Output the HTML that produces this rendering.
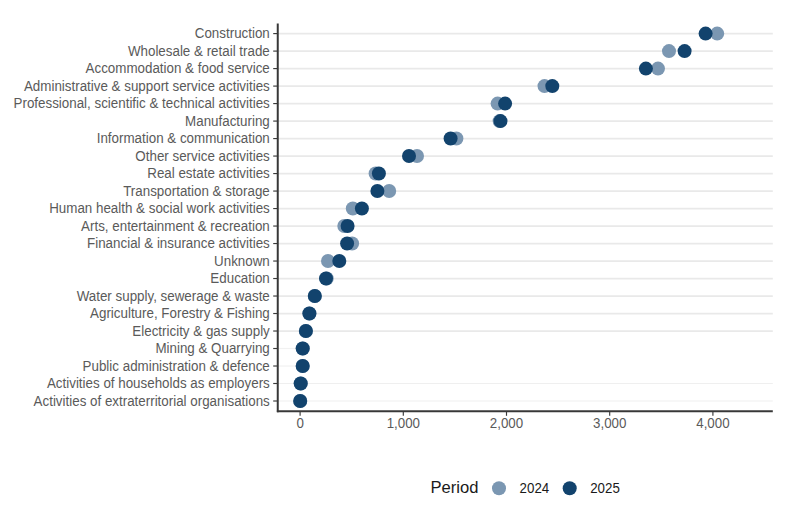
<!DOCTYPE html>
<html><head><meta charset="utf-8"><title>chart</title>
<style>
html,body{margin:0;padding:0;background:#fff;}
body{width:801px;height:507px;overflow:hidden;}
svg{display:block;}
text{font-family:"Liberation Sans",sans-serif;}
.yl{font-size:13.38px;fill:#5a5a5a;text-anchor:end;}
.xl{font-size:13.33px;fill:#5a5a5a;text-anchor:middle;}
.lg{font-size:13.33px;fill:#1a1a1a;}
.lt{font-size:16.6px;fill:#1a1a1a;}
</style></head><body>
<svg width="801" height="507" viewBox="0 0 801 507">
<rect width="801" height="507" fill="#ffffff"/>

<line x1="278" x2="772.8" y1="33.70" y2="33.70" stroke="#e9e9e9" stroke-width="1.8"/>
<line x1="278" x2="772.8" y1="51.20" y2="51.20" stroke="#e9e9e9" stroke-width="1.8"/>
<line x1="278" x2="772.8" y1="68.69" y2="68.69" stroke="#e9e9e9" stroke-width="1.8"/>
<line x1="278" x2="772.8" y1="86.19" y2="86.19" stroke="#e9e9e9" stroke-width="1.8"/>
<line x1="278" x2="772.8" y1="103.68" y2="103.68" stroke="#e9e9e9" stroke-width="1.8"/>
<line x1="278" x2="772.8" y1="121.18" y2="121.18" stroke="#e9e9e9" stroke-width="1.8"/>
<line x1="278" x2="772.8" y1="138.67" y2="138.67" stroke="#e9e9e9" stroke-width="1.8"/>
<line x1="278" x2="772.8" y1="156.16" y2="156.16" stroke="#e9e9e9" stroke-width="1.8"/>
<line x1="278" x2="772.8" y1="173.66" y2="173.66" stroke="#e9e9e9" stroke-width="1.8"/>
<line x1="278" x2="772.8" y1="191.16" y2="191.16" stroke="#e9e9e9" stroke-width="1.8"/>
<line x1="278" x2="772.8" y1="208.65" y2="208.65" stroke="#e9e9e9" stroke-width="1.8"/>
<line x1="278" x2="772.8" y1="226.15" y2="226.15" stroke="#e9e9e9" stroke-width="1.8"/>
<line x1="278" x2="772.8" y1="243.64" y2="243.64" stroke="#e9e9e9" stroke-width="1.8"/>
<line x1="278" x2="772.8" y1="261.14" y2="261.14" stroke="#e9e9e9" stroke-width="1.8"/>
<line x1="278" x2="772.8" y1="278.63" y2="278.63" stroke="#e9e9e9" stroke-width="1.8"/>
<line x1="278" x2="772.8" y1="296.13" y2="296.13" stroke="#e9e9e9" stroke-width="1.8"/>
<line x1="278" x2="772.8" y1="313.62" y2="313.62" stroke="#e9e9e9" stroke-width="1.8"/>
<line x1="278" x2="772.8" y1="331.12" y2="331.12" stroke="#e9e9e9" stroke-width="1.8"/>
<line x1="278" x2="296" y1="348.51" y2="348.51" stroke="#f1f1f1" stroke-width="1.2"/>
<line x1="278" x2="296" y1="366.01" y2="366.01" stroke="#f1f1f1" stroke-width="1.2"/>
<line x1="278" x2="772.8" y1="383.50" y2="383.50" stroke="#efefef" stroke-width="1.2"/>
<line x1="278" x2="772.8" y1="401.00" y2="401.00" stroke="#efefef" stroke-width="1.2"/>
<line x1="277.75" x2="277.75" y1="23.5" y2="412.2" stroke="#383838" stroke-width="2"/>
<line x1="276.9" x2="772.8" y1="411.2" y2="411.2" stroke="#383838" stroke-width="2"/>
<line x1="273.2" x2="277" y1="33.60" y2="33.60" stroke="#3a3a3a" stroke-width="1.15"/>
<text class="yl" transform="translate(269.8,38) scale(1,1.05)">Construction</text>
<line x1="273.2" x2="277" y1="51.09" y2="51.09" stroke="#3a3a3a" stroke-width="1.15"/>
<text class="yl" transform="translate(269.8,56) scale(1,1.05)">Wholesale &amp; retail trade</text>
<line x1="273.2" x2="277" y1="68.59" y2="68.59" stroke="#3a3a3a" stroke-width="1.15"/>
<text class="yl" transform="translate(269.8,73) scale(1,1.05)">Accommodation &amp; food service</text>
<line x1="273.2" x2="277" y1="86.09" y2="86.09" stroke="#3a3a3a" stroke-width="1.15"/>
<text class="yl" transform="translate(269.8,91) scale(1,1.05)">Administrative &amp; support service activities</text>
<line x1="273.2" x2="277" y1="103.58" y2="103.58" stroke="#3a3a3a" stroke-width="1.15"/>
<text class="yl" transform="translate(269.8,108) scale(1,1.05)">Professional, scientific &amp; technical activities</text>
<line x1="273.2" x2="277" y1="121.08" y2="121.08" stroke="#3a3a3a" stroke-width="1.15"/>
<text class="yl" transform="translate(269.8,126) scale(1,1.05)">Manufacturing</text>
<line x1="273.2" x2="277" y1="138.57" y2="138.57" stroke="#3a3a3a" stroke-width="1.15"/>
<text class="yl" transform="translate(269.8,143) scale(1,1.05)">Information &amp; communication</text>
<line x1="273.2" x2="277" y1="156.06" y2="156.06" stroke="#3a3a3a" stroke-width="1.15"/>
<text class="yl" transform="translate(269.8,161) scale(1,1.05)">Other service activities</text>
<line x1="273.2" x2="277" y1="173.56" y2="173.56" stroke="#3a3a3a" stroke-width="1.15"/>
<text class="yl" transform="translate(269.8,178) scale(1,1.05)">Real estate activities</text>
<line x1="273.2" x2="277" y1="191.06" y2="191.06" stroke="#3a3a3a" stroke-width="1.15"/>
<text class="yl" transform="translate(269.8,196) scale(1,1.05)">Transportation &amp; storage</text>
<line x1="273.2" x2="277" y1="208.55" y2="208.55" stroke="#3a3a3a" stroke-width="1.15"/>
<text class="yl" transform="translate(269.8,213) scale(1,1.05)">Human health &amp; social work activities</text>
<line x1="273.2" x2="277" y1="226.05" y2="226.05" stroke="#3a3a3a" stroke-width="1.15"/>
<text class="yl" transform="translate(269.8,231) scale(1,1.05)">Arts, entertainment &amp; recreation</text>
<line x1="273.2" x2="277" y1="243.54" y2="243.54" stroke="#3a3a3a" stroke-width="1.15"/>
<text class="yl" transform="translate(269.8,248) scale(1,1.05)">Financial &amp; insurance activities</text>
<line x1="273.2" x2="277" y1="261.04" y2="261.04" stroke="#3a3a3a" stroke-width="1.15"/>
<text class="yl" transform="translate(269.8,266) scale(1,1.05)">Unknown</text>
<line x1="273.2" x2="277" y1="278.53" y2="278.53" stroke="#3a3a3a" stroke-width="1.15"/>
<text class="yl" transform="translate(269.8,283) scale(1,1.05)">Education</text>
<line x1="273.2" x2="277" y1="296.03" y2="296.03" stroke="#3a3a3a" stroke-width="1.15"/>
<text class="yl" transform="translate(269.8,301) scale(1,1.05)">Water supply, sewerage &amp; waste</text>
<line x1="273.2" x2="277" y1="313.52" y2="313.52" stroke="#3a3a3a" stroke-width="1.15"/>
<text class="yl" transform="translate(269.8,318) scale(1,1.05)">Agriculture, Forestry &amp; Fishing</text>
<line x1="273.2" x2="277" y1="331.02" y2="331.02" stroke="#3a3a3a" stroke-width="1.15"/>
<text class="yl" transform="translate(269.8,336) scale(1,1.05)">Electricity &amp; gas supply</text>
<line x1="273.2" x2="277" y1="348.51" y2="348.51" stroke="#3a3a3a" stroke-width="1.15"/>
<text class="yl" transform="translate(269.8,353) scale(1,1.05)">Mining &amp; Quarrying</text>
<line x1="273.2" x2="277" y1="366.01" y2="366.01" stroke="#3a3a3a" stroke-width="1.15"/>
<text class="yl" transform="translate(269.8,371) scale(1,1.05)">Public administration &amp; defence</text>
<line x1="273.2" x2="277" y1="383.50" y2="383.50" stroke="#3a3a3a" stroke-width="1.15"/>
<text class="yl" transform="translate(269.8,388) scale(1,1.05)">Activities of households as employers</text>
<line x1="273.2" x2="277" y1="401.00" y2="401.00" stroke="#3a3a3a" stroke-width="1.15"/>
<text class="yl" transform="translate(269.8,406) scale(1,1.05)">Activities of extraterritorial organisations</text>
<line x1="300.10" x2="300.10" y1="412" y2="415.8" stroke="#3a3a3a" stroke-width="1.15"/>
<text class="xl" transform="translate(300.10,428) scale(1,1.07)">0</text>
<line x1="403.30" x2="403.30" y1="412" y2="415.8" stroke="#3a3a3a" stroke-width="1.15"/>
<text class="xl" transform="translate(403.30,428) scale(1,1.07)">1,000</text>
<line x1="506.50" x2="506.50" y1="412" y2="415.8" stroke="#3a3a3a" stroke-width="1.15"/>
<text class="xl" transform="translate(506.50,428) scale(1,1.07)">2,000</text>
<line x1="609.70" x2="609.70" y1="412" y2="415.8" stroke="#3a3a3a" stroke-width="1.15"/>
<text class="xl" transform="translate(609.70,428) scale(1,1.07)">3,000</text>
<line x1="712.90" x2="712.90" y1="412" y2="415.8" stroke="#3a3a3a" stroke-width="1.15"/>
<text class="xl" transform="translate(712.90,428) scale(1,1.07)">4,000</text>
<circle cx="717.20" cy="33.60" r="7" fill="#7b97b2"/>
<circle cx="669.00" cy="51.09" r="7" fill="#7b97b2"/>
<circle cx="658.00" cy="68.59" r="7" fill="#7b97b2"/>
<circle cx="544.50" cy="86.09" r="7" fill="#7b97b2"/>
<circle cx="497.60" cy="103.58" r="7" fill="#7b97b2"/>
<circle cx="499.60" cy="121.08" r="7" fill="#7b97b2"/>
<circle cx="456.40" cy="138.57" r="7" fill="#7b97b2"/>
<circle cx="417.00" cy="156.06" r="7" fill="#7b97b2"/>
<circle cx="375.60" cy="173.56" r="7" fill="#7b97b2"/>
<circle cx="389.20" cy="191.06" r="7" fill="#7b97b2"/>
<circle cx="352.80" cy="208.55" r="7" fill="#7b97b2"/>
<circle cx="344.30" cy="226.05" r="7" fill="#7b97b2"/>
<circle cx="352.10" cy="243.54" r="7" fill="#7b97b2"/>
<circle cx="328.00" cy="261.04" r="7" fill="#7b97b2"/>
<circle cx="326.70" cy="278.53" r="7" fill="#7b97b2"/>
<circle cx="314.80" cy="296.03" r="7" fill="#7b97b2"/>
<circle cx="309.40" cy="313.52" r="7" fill="#7b97b2"/>
<circle cx="305.90" cy="331.02" r="7" fill="#7b97b2"/>
<circle cx="302.70" cy="348.51" r="7" fill="#7b97b2"/>
<circle cx="302.70" cy="366.01" r="7" fill="#7b97b2"/>
<circle cx="300.70" cy="383.50" r="7" fill="#7b97b2"/>
<circle cx="300.20" cy="401.00" r="7" fill="#7b97b2"/>
<circle cx="705.60" cy="33.60" r="7" fill="#12436d"/>
<circle cx="684.60" cy="51.09" r="7" fill="#12436d"/>
<circle cx="645.90" cy="68.59" r="7" fill="#12436d"/>
<circle cx="552.30" cy="86.09" r="7" fill="#12436d"/>
<circle cx="505.10" cy="103.58" r="7" fill="#12436d"/>
<circle cx="500.50" cy="121.08" r="7" fill="#12436d"/>
<circle cx="450.60" cy="138.57" r="7" fill="#12436d"/>
<circle cx="409.00" cy="156.06" r="7" fill="#12436d"/>
<circle cx="378.90" cy="173.56" r="7" fill="#12436d"/>
<circle cx="377.40" cy="191.06" r="7" fill="#12436d"/>
<circle cx="361.90" cy="208.55" r="7" fill="#12436d"/>
<circle cx="347.60" cy="226.05" r="7" fill="#12436d"/>
<circle cx="347.10" cy="243.54" r="7" fill="#12436d"/>
<circle cx="339.30" cy="261.04" r="7" fill="#12436d"/>
<circle cx="326.00" cy="278.53" r="7" fill="#12436d"/>
<circle cx="314.80" cy="296.03" r="7" fill="#12436d"/>
<circle cx="309.40" cy="313.52" r="7" fill="#12436d"/>
<circle cx="305.90" cy="331.02" r="7" fill="#12436d"/>
<circle cx="302.70" cy="348.51" r="7" fill="#12436d"/>
<circle cx="302.70" cy="366.01" r="7" fill="#12436d"/>
<circle cx="300.70" cy="383.50" r="7" fill="#12436d"/>
<circle cx="300.20" cy="401.00" r="7" fill="#12436d"/>
<text class="lt" transform="translate(430.4,493.1) scale(1,0.96)">Period</text>
<circle cx="499.0" cy="488.3" r="7" fill="#7b97b2"/>
<text class="lg" transform="translate(519.6,493.1) scale(1,1.1)">2024</text>
<circle cx="569.7" cy="488.3" r="7" fill="#12436d"/>
<text class="lg" transform="translate(590.2,493.1) scale(1,1.1)">2025</text>
</svg></body></html>
